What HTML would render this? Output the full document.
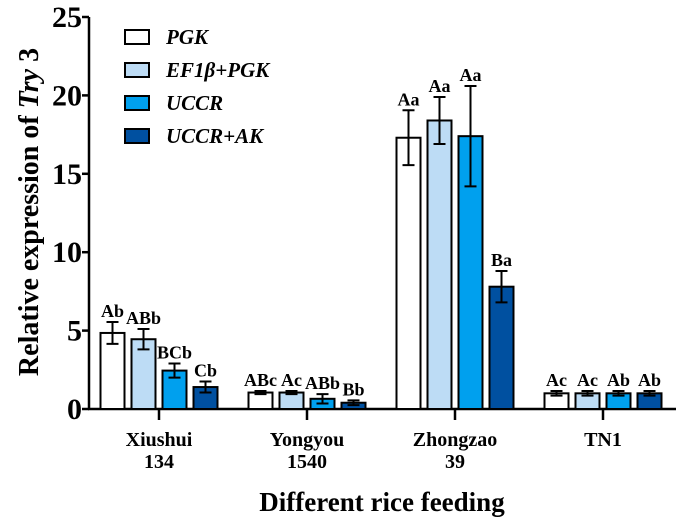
<!DOCTYPE html>
<html><head><meta charset="utf-8"><style>
body{margin:0;background:#fff}
svg{display:block}
svg text{font-family:"Liberation Serif","DejaVu Serif",serif;font-weight:bold}
</style></head><body>
<svg id="c" width="679" height="525" font-family="Liberation Serif, serif" font-weight="bold"></svg>
<script>
const categories=[["Xiushui","134"],["Yongyou","1540"],["Zhongzao","39"],["TN1"]];
const series=["PGK","EF1β+PGK","UCCR","UCCR+AK"];
const colors=["#ffffff","#bddcf5","#00a0ee","#0050a0"];
const values=[[4.85,4.45,2.45,1.4],[1.05,1.05,0.65,0.4],[17.3,18.4,17.4,7.8],[1.0,1.0,1.0,1.0]];
const errors=[[0.7,0.65,0.45,0.35],[0.1,0.1,0.3,0.15],[1.75,1.5,3.2,1.0],[0.15,0.15,0.15,0.15]];
const letters=[["Ab","ABb","BCb","Cb"],["ABc","Ac","ABb","Bb"],["Aa","Aa","Aa","Ba"],["Ac","Ac","Ab","Ab"]];
const yTicks=[0,5,10,15,20,25];
const NS="http://www.w3.org/2000/svg";
const svg=document.getElementById("c");
const y0=409,y25=17;
const y=v=>y0-(y0-y25)*v/25;
const xc=i=>159+148*i;
const off=[-46.5,-15.5,15.5,46.5],bw=24;
function el(t,a,p){const e=document.createElementNS(NS,t);for(const k in a)e.setAttribute(k,a[k]);(p||svg).appendChild(e);return e;}
let ya=el("line",{x1:89,y1:y0+1,x2:89,y2:y25,stroke:"#000","stroke-width":2.5});


let xa=el("line",{x1:88,y1:y0,x2:676,y2:y0,stroke:"#000","stroke-width":2.5});


yTicks.forEach(t=>{
 let tk=el("line",{x1:82,y1:y(t),x2:89,y2:y(t),stroke:"#000","stroke-width":2.5});
 
 
 let tl=el("text",{x:82,y:y(t)+10,"text-anchor":"end","font-size":30});
 tl.textContent=t;
 
 
});
categories.forEach((c,i)=>{
 let tk=el("line",{x1:xc(i),y1:y0,x2:xc(i),y2:y0+11,stroke:"#000","stroke-width":2.5});
 
 
 c.forEach((s,j)=>{
  let t=el("text",{x:xc(i),y:446+j*22,"text-anchor":"middle","font-size":20});
  t.textContent=s;
  
  
 });
 values[i].forEach((v,k)=>{
  const cx=xc(i)+off[k];
  let r=el("rect",{x:cx-bw/2,y:y(v),width:bw,height:y0-y(v),fill:colors[k],stroke:"#000","stroke-width":2});
  
  
  const e=errors[i][k],hi=y(v+e),lo=y(v-e);
  let g=el("path",{d:`M${cx},${hi}V${lo}M${cx-6},${hi}H${cx+6}M${cx-6},${lo}H${cx+6}`,stroke:"#000","stroke-width":2,fill:"none"});
  
  
  let l=el("text",{x:cx,y:hi-5,"text-anchor":"middle","font-size":18});
  l.textContent=letters[i][k];
  
  
 });
});
series.forEach((s,k)=>{
 const ly=30+33*k;
 let b=el("rect",{x:125,y:ly,width:24,height:14,fill:colors[k],stroke:"#000","stroke-width":2});
 
 
 let t=el("text",{x:166,y:ly+14,"font-size":21,"font-style":"italic"});
 t.textContent=s;
 
 
});
let yt=el("text",{transform:"translate(38,212) rotate(-90)","text-anchor":"middle","font-size":28});
yt.innerHTML='Relative expression of <tspan font-style="italic">Try</tspan> 3';


let xt=el("text",{x:382,y:511,"text-anchor":"middle","font-size":27});
xt.textContent="Different rice feeding";


</script>
</body></html>
